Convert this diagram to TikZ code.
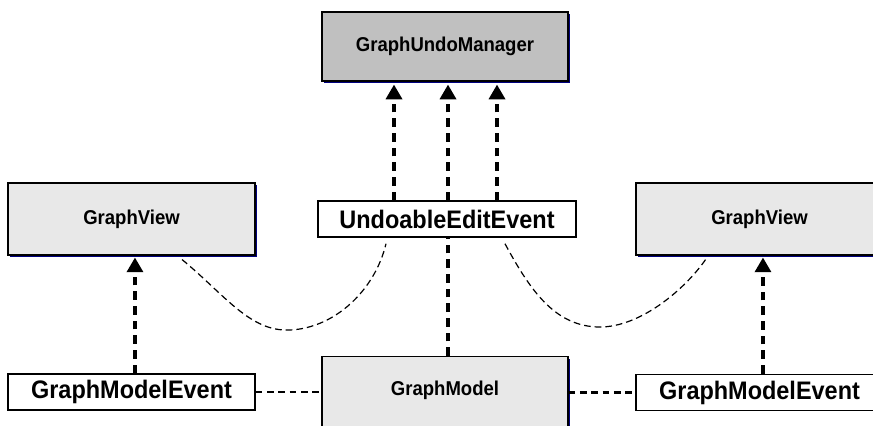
\documentclass[tikz,border=0pt]{standalone}
\usepackage{fontspec}
\setmainfont{Liberation Sans}
\usetikzlibrary{arrows.meta,shadows}
\definecolor{navyshade}{HTML}{000080}
\definecolor{darkfill}{HTML}{C0C0C0}
\definecolor{lightfill}{HTML}{E8E8E8}
\tikzset{
  classbox/.style={draw=black, line width=0.8pt, inner sep=0pt,
    font=\fontsize{13.9}{16}\selectfont\bfseries,
    drop shadow={shadow xshift=1.6pt, shadow yshift=-1.8pt, fill=navyshade, opacity=1}},
  eventbox/.style={draw=black, line width=1.1pt, fill=white, inner sep=0pt,
    minimum width=185.25pt, minimum height=27pt,
    font=\fontsize{17.6}{20}\selectfont\bfseries},
  notify/.style={line width=2.5pt, dash pattern=on 6.5pt off 4.5pt,
    -{Triangle[length=11pt,width=12pt]}},
  link/.style={line width=1.6pt, dash pattern=on 5pt off 3.5pt},
  listener/.style={line width=0.9pt, dash pattern=on 5pt off 3pt},
}
\begin{document}
\begin{tikzpicture}[x=0.75pt, y=-0.75pt]
  \useasboundingbox (0,0) rectangle (873,425);
  \clip (0,0) rectangle (873,425);

  % classes
  \node[classbox, fill=darkfill, minimum width=184.5pt, minimum height=51.75pt]
    (gum) at (445,46.5) {\scalebox{1}[1.08]{GraphUndoManager}};
  \node[classbox, fill=lightfill, minimum width=185.25pt, minimum height=54pt]
    (gvl) at (131.5,219) {\scalebox{1}[1.08]{GraphView}};
  \node[classbox, fill=lightfill, minimum width=185.25pt, minimum height=54pt]
    (gvr) at (759.5,219) {\scalebox{1}[1.08]{GraphView}};
  \node[classbox, fill=lightfill, minimum width=184.5pt,
    text height=28.9pt, text depth=31.1pt, anchor=north]
    (gm) at (445,356) {\scalebox{1}[1.08]{GraphModel}};

  % events
  \node[eventbox, minimum width=193.5pt] (uee) at (447,219) {\scalebox{1}[1.08]{UndoableEditEvent}};
  \node[eventbox] (gmel) at (131.5,392) {\scalebox{1}[1.08]{GraphModelEvent}};
  \node[eventbox] (gmer) at (759.5,392.5) {\scalebox{1}[1.08]{GraphModelEvent}};

  % undoable edits reported to the undo manager
  \draw[notify, shorten >=2.3pt] ([xshift=-39.75pt]uee.north) -- ([xshift=-38.25pt]gum.south);
  \draw[notify, shorten >=2.3pt] ([xshift=0.75pt]uee.north) -- ([xshift=2.25pt]gum.south);
  \draw[notify, shorten >=2.3pt] ([xshift=37.5pt]uee.north) -- ([xshift=39pt]gum.south);

  % model fires the edit event
  \draw[line width=2.5pt, dash pattern=on 6.5pt off 4.5pt]
    ([xshift=2.25pt]gm.north) -- ([xshift=0.75pt]uee.south);

  % model events forwarded to the views
  \draw[notify, shorten >=1.5pt] ([xshift=2.6pt]gmel.north) -- ([xshift=2.6pt]gvl.south);
  \draw[notify, shorten >=1.5pt] ([xshift=2.6pt]gmer.north) -- ([xshift=2.6pt]gvr.south);

  % model event links
  \draw[link] (gmel.east) -- (gmel.east -| gm.west);
  \draw[link] (gm.east |- gmer.west) -- (gmer.west);

  % views listening to undoable edits
  \draw[listener] ([xshift=37.9pt, yshift=-3pt]gvl.south)
    .. controls (225,295) and (250,332) .. (290,330)
    .. controls (335,328) and (375,290) .. ([xshift=-45.75pt, yshift=-4.5pt]uee.south);
  \draw[listener] ([xshift=43.5pt, yshift=-4.5pt]uee.south)
    .. controls (530,290) and (555,327) .. (600,327)
    .. controls (640,327) and (685,290) .. ([xshift=-39.4pt, yshift=-1.5pt]gvr.south);
\end{tikzpicture}
\end{document}
